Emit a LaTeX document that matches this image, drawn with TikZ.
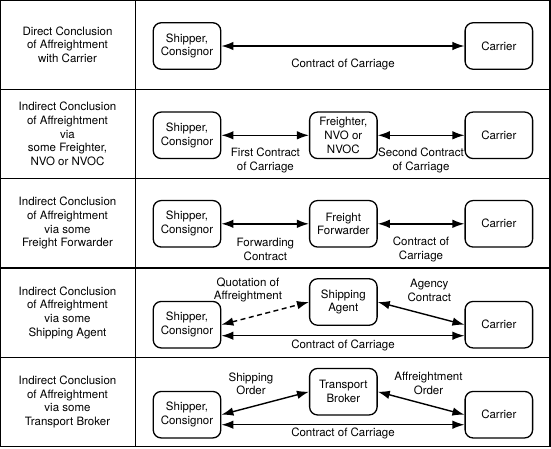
\documentclass[tikz,border=0pt]{standalone}
\usepackage{fontspec}
\setmainfont{TeX Gyre Heros}
\usetikzlibrary{arrows.meta,calc}
\begin{document}
\begin{tikzpicture}[x=1pt,y=-1pt,
  every node/.style={font=\fontsize{11.5}{13.7}\selectfont, align=center, inner sep=0pt},
  party/.style={draw, line width=1.3pt, rounded corners=8pt, minimum width=67.5pt, minimum height=46.5pt},
  link/.style={line width=1.4pt, {Latex[length=12pt,width=8.5pt]}-{Latex[length=12pt,width=8.5pt]}},
  quote/.style={link, dash pattern=on 5pt off 3.5pt},
  frame/.style={line width=1.4pt}]
\useasboundingbox (0,0) rectangle (551,448);
\fill[white] (0,0) rectangle (551,448);
\draw[frame] (0.75,0.75) rectangle (550,446.5);
\draw[frame] (135.7,0.75) -- (135.7,446.5);
\foreach \yy in {89.3,178.6,268,357.3} \draw[frame] (0.75,\yy) -- (550,\yy);

% row headings
\node (h1) at (67.5,44.65) {Direct Conclusion\\of Affreightment\\with Carrier};
\node (h2) at (67.5,133.95) {Indirect Conclusion\\of Affreightment\\via\\some Freighter,\\NVO or NVOC};
\node (h3) at (67.5,223.3) {Indirect Conclusion\\of Affreightment\\via some\\Freight Forwarder};
\node (h4) at (67.5,312.65) {Indirect Conclusion\\of Affreightment\\via some\\Shipping Agent};
\node (h5) at (67.5,401.95) {Indirect Conclusion\\of Affreightment\\via some\\Transport Broker};

% row 1
\node[party] (s1) at (187,46) {Shipper,\\Consignor};
\node[party] (c1) at (498.85,46) {Carrier};
\draw[link] (s1) -- (c1);
\node (l1) at (343,64.5) {Contract of Carriage};

% row 2
\node[party] (s2) at (187,135.3) {Shipper,\\Consignor};
\node[party] (f2) at (343.35,135.3) {Freighter,\\NVO or\\NVOC};
\node[party] (c2) at (498.85,135.3) {Carrier};
\draw[link] (s2) -- (f2);
\draw[link] (f2) -- (c2);
\node (l2a) at (265.4,160.4) {First Contract\\of Carriage};
\node (l2b) at (421,160.4) {Second Contract\\of Carriage};

% row 3
\node[party] (s3) at (187,223.8) {Shipper,\\Consignor};
\node[party] (f3) at (343.35,223.8) {Freight\\Forwarder};
\node[party] (c3) at (498.85,223.8) {Carrier};
\draw[link] (s3) -- (f3);
\draw[link] (f3) -- (c3);
\node (l3a) at (265.4,249.3) {Forwarding\\Contract};
\node (l3b) at (421,249.3) {Contract of\\Carriage};

% row 4
\node[party] (s4) at (187,324.7) {Shipper,\\Consignor};
\node[party] (a4) at (343.35,302) {Shipping\\Agent};
\node[party] (c4) at (498.85,324.7) {Carrier};
\draw[quote] (s4.east) -- (a4.west);
\draw[link] (a4.east) -- (c4.west);
\draw[link] ([yshift=-11pt]s4.east) -- ([yshift=-11pt]c4.west);
\node (l4a) at (248,289.8) {Quotation of\\Affreightment};
\node (l4b) at (429.3,290.3) {Agency\\Contract};
\node (l4c) at (343,345) {Contract of Carriage};

% row 5
\node[party] (s5) at (187,414.7) {Shipper,\\Consignor};
\node[party] (t5) at (343.35,391.7) {Transport\\Broker};
\node[party] (c5) at (498.85,414.7) {Carrier};
\draw[link] (s5.east) -- (t5.west);
\draw[link] (t5.east) -- (c5.west);
\draw[link] ([yshift=-10pt]s5.east) -- ([yshift=-10pt]c5.west);
\node (l5a) at (251,383.7) {Shipping\\Order};
\node (l5b) at (428.5,383.7) {Affreightment\\Order};
\node (l5c) at (343,433.7) {Contract of Carriage};
\end{tikzpicture}
\end{document}
